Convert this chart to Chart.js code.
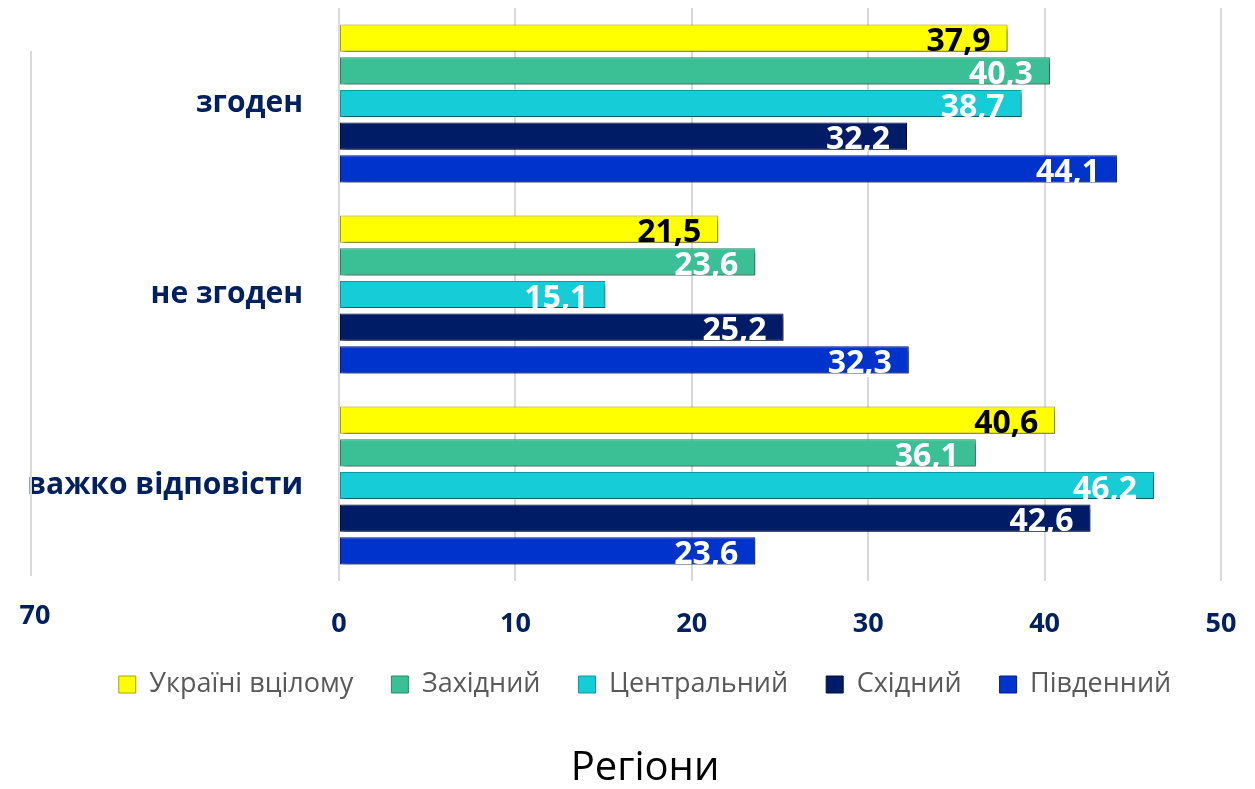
<!DOCTYPE html>
<html>
<head>
<meta charset="utf-8">
<script src="https://cdn.jsdelivr.net/npm/chart.js"></script>
<style>
    html, body { margin: 0; padding: 0; background: #fff; }
    #wrap { width: 1255px; height: 789px; }
</style>
</head>
<body>
<div id="wrap"><canvas id="regionChart"></canvas></div>
<script>
// дані
const categories = ['згоден', 'не згоден', 'важко відповісти'];
const seriesNames = ['Україні вцілому', 'Західний', 'Центральний', 'Східний', 'Південний'];
const ukraineValues = [37.9, 21.5, 40.6];
const westValues = [40.3, 23.6, 36.1];
const centerValues = [38.7, 15.1, 46.2];
const eastValues = [32.2, 25.2, 42.6];
const southValues = [44.1, 32.3, 23.6];
const xTicks = [0, 10, 20, 30, 40, 50];
const strayTickLabel = '70';

const navy = '#002060';
const fills = ['#FFFF00', '#3BBF94', '#16CCD6', '#001C66', '#0033CC'];
const edges = ['#A6A600', '#2A8A6A', '#0E9AA2', '#000F3A', '#00208A'];
const labelColors = ['#000000', '#FFFFFF', '#FFFFFF', '#FFFFFF', '#FFFFFF'];
const allValues = [ukraineValues, westValues, centerValues, eastValues, southValues];
const padLeft = 69;

// тінь під стовпчиками
const barShadow = {
    id: 'barShadow',
    beforeDatasetsDraw(chart) {
        const ctx = chart.ctx;
        ctx.save();
        ctx.shadowColor = 'rgba(0,0,0,0.45)';
        ctx.shadowOffsetX = 3;
        ctx.shadowOffsetY = 3;
        ctx.shadowBlur = 4;
    },
    afterDatasetsDraw(chart) {
        chart.ctx.restore();
    }
};

// підписи значень
const valueLabels = {
    id: 'valueLabels',
    afterDatasetsDraw(chart) {
        const ctx = chart.ctx;
        ctx.save();
        ctx.font = 'bold 32px "Open Sans"';
        ctx.textAlign = 'right';
        ctx.textBaseline = 'alphabetic';
        chart.data.datasets.forEach((ds, i) => {
            chart.getDatasetMeta(i).data.forEach((bar, j) => {
                ctx.fillStyle = labelColors[i];
                ctx.fillText(ds.data[j].toFixed(1).replace('.', ','), bar.x - 17, bar.y + 13);
            });
        });
        ctx.restore();
    }
};

// підписи осей (Chart.js обрізає їх по межах осі, тому малюємо самі)
const axisLabels = {
    id: 'axisLabels',
    afterDraw(chart) {
        const ctx = chart.ctx;
        const area = chart.chartArea;
        const xScale = chart.scales.x;
        const yScale = chart.scales.y;
        ctx.save();
        ctx.fillStyle = navy;
        ctx.textBaseline = 'middle';

        ctx.font = 'bold 30px "Open Sans"';
        ctx.textAlign = 'right';
        categories.forEach((name, i) => {
            ctx.fillText(name, area.left - 36, yScale.getPixelForValue(i));
        });

        ctx.font = 'bold 27px "Open Sans"';
        ctx.textAlign = 'center';
        xTicks.forEach(v => {
            ctx.fillText(String(v), xScale.getPixelForValue(v), area.bottom + 43);
        });

        // зайва ліва лінія та підпис "70"
        ctx.fillText(strayTickLabel, 35, area.bottom + 35);
        ctx.strokeStyle = '#D9D9D9';
        ctx.lineWidth = 2;
        ctx.beginPath();
        ctx.moveTo(31, area.top + 43);
        ctx.lineTo(31, area.bottom - 5);
        ctx.stroke();
        ctx.restore();
    }
};

const ctx = document.getElementById('regionChart').getContext('2d');
const regionChart = new Chart(ctx, {
    type: 'bar',
    data: {
        labels: categories,
        datasets: seriesNames.map((name, i) => ({
            label: name,
            data: allValues[i],
            backgroundColor: fills[i],
            borderColor: edges[i],
            borderWidth: 1,
            borderSkipped: false,
            barPercentage: 0.83,
            categoryPercentage: 0.855
        }))
    },
    options: {
        indexAxis: 'y',
        responsive: true,
        maintainAspectRatio: false,
        animation: false,
        layout: {
            padding: { top: 8, right: 34, left: padLeft, bottom: 0 }
        },
        plugins: {
            tooltip: { enabled: false },
            legend: {
                position: 'bottom',
                labels: {
                    boxWidth: 17,
                    boxHeight: 17,
                    padding: 38,
                    color: '#595959',
                    font: { family: 'Open Sans', size: 27 }
                }
            },
            title: {
                display: true,
                position: 'bottom',
                text: 'Регіони',
                color: '#000000',
                font: { family: 'Open Sans', size: 40, weight: 'normal', lineHeight: 1 },
                padding: { top: 41, bottom: 0 }
            }
        },
        scales: {
            x: {
                min: 0,
                max: 50,
                afterBuildTicks: (scale) => {
                    scale.ticks = xTicks.map(v => ({ value: v }));
                },
                afterFit: (scale) => {
                    scale.height = 52;
                    scale.paddingLeft = 0;
                    scale.paddingRight = 0;
                },
                grid: {
                    color: '#D9D9D9',
                    lineWidth: 2,
                    drawTicks: false
                },
                border: { display: false },
                ticks: { display: false }
            },
            y: {
                afterFit: (scale) => {
                    scale.width = 339 - padLeft;
                    scale.paddingTop = 0;
                    scale.paddingBottom = 0;
                },
                grid: { display: false },
                border: { display: false },
                ticks: { display: false }
            }
        }
    },
    plugins: [barShadow, valueLabels, axisLabels]
});
</script>
</body>
</html>
